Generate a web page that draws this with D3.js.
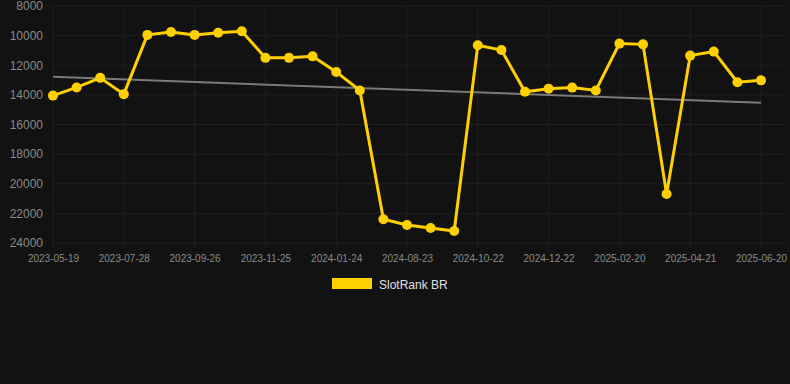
<!DOCTYPE html>
<html><head><meta charset="utf-8">
<script src="https://cdn.jsdelivr.net/npm/d3@7"></script>
<style>
html,body{margin:0;padding:0;background:#121212;}
svg{display:block;font-family:"Liberation Sans",Arial,sans-serif;}
</style></head>
<body><svg id="c" width="790" height="384"></svg>
<script>
const dates = ["2023-05-19","2023-06-12","2023-07-05","2023-07-28","2023-08-17","2023-09-06","2023-09-26","2023-10-16","2023-11-05","2023-11-25","2023-12-15","2024-01-04","2024-01-24","2024-04-03","2024-06-13","2024-08-23","2024-09-12","2024-10-02","2024-10-22","2024-11-11","2024-12-01","2024-12-22","2025-01-11","2025-01-31","2025-02-20","2025-03-12","2025-04-01","2025-04-21","2025-05-11","2025-05-31","2025-06-20"];
const ranks = [14050,13500,12850,13950,9950,9750,9950,9800,9700,11500,11500,11400,12450,13700,22400,22790,22990,23190,10650,10970,13790,13580,13510,13700,10540,10590,20690,11350,11080,13150,13020];
const trendValues = [12780,14530];
const yTicks = [8000,10000,12000,14000,16000,18000,20000,22000,24000];
const tickEvery = 3;
const seriesName = "SlotRank BR";

const svg = d3.select("#c");
const x = d3.scalePoint().domain(dates).range([53,761]);
const y = d3.scaleLinear().domain([8000,24000]).range([6,243]);
const xTicks = dates.filter((d,i)=>i%tickEvery===0);

// grid
svg.append("g").selectAll("line").data(yTicks).join("line")
  .attr("x1",53).attr("x2",785).attr("y1",d=>y(d)).attr("y2",d=>y(d))
  .attr("stroke","#1f1f1f").attr("stroke-width",1);
svg.append("g").selectAll("line").data(xTicks).join("line")
  .attr("x1",d=>x(d)).attr("x2",d=>x(d)).attr("y1",y(8000)).attr("y2",y(24000)+5)
  .attr("stroke","#1f1f1f").attr("stroke-width",1);

// y axis labels
const ya = svg.append("g").attr("transform","translate(43,0)")
  .call(d3.axisLeft(y).tickValues(yTicks).tickSize(0).tickPadding(0).tickFormat(d3.format("d")));
ya.select(".domain").remove();
ya.selectAll("text").attr("fill","#8a8a8a").style("font-size","12px").style("font-family","Liberation Sans, Arial, sans-serif");

// x axis labels
const xa = svg.append("g").attr("transform","translate(0,255)")
  .call(d3.axisBottom(x).tickValues(xTicks).tickSize(0).tickPadding(0));
xa.select(".domain").remove();
xa.selectAll("text").attr("fill","#8a8a8a").style("font-size","10px").style("font-family","Liberation Sans, Arial, sans-serif");

// trend
svg.append("line")
  .attr("x1",x(dates[0])).attr("x2",x(dates[dates.length-1]))
  .attr("y1",y(trendValues[0])).attr("y2",y(trendValues[1]))
  .attr("stroke","#7a7a7a").attr("stroke-width",2);

// series
const line = d3.line().x((d,i)=>x(dates[i])).y(d=>y(d));
svg.append("path").datum(ranks).attr("d",line)
  .attr("fill","none").attr("stroke","#ffd000").attr("stroke-width",3).attr("stroke-linejoin","miter").attr("stroke-miterlimit",6);
svg.append("g").selectAll("circle").data(ranks).join("circle")
  .attr("cx",(d,i)=>x(dates[i])).attr("cy",d=>y(d)).attr("r",5).attr("fill","#ffd000");

// legend
svg.append("rect").attr("x",332).attr("y",278).attr("width",40).attr("height",11).attr("fill","#ffd000");
svg.append("text").attr("x",379).attr("y",289).text(seriesName)
  .attr("fill","#e0e0e0").style("font-size","12px");
</script></body></html>
